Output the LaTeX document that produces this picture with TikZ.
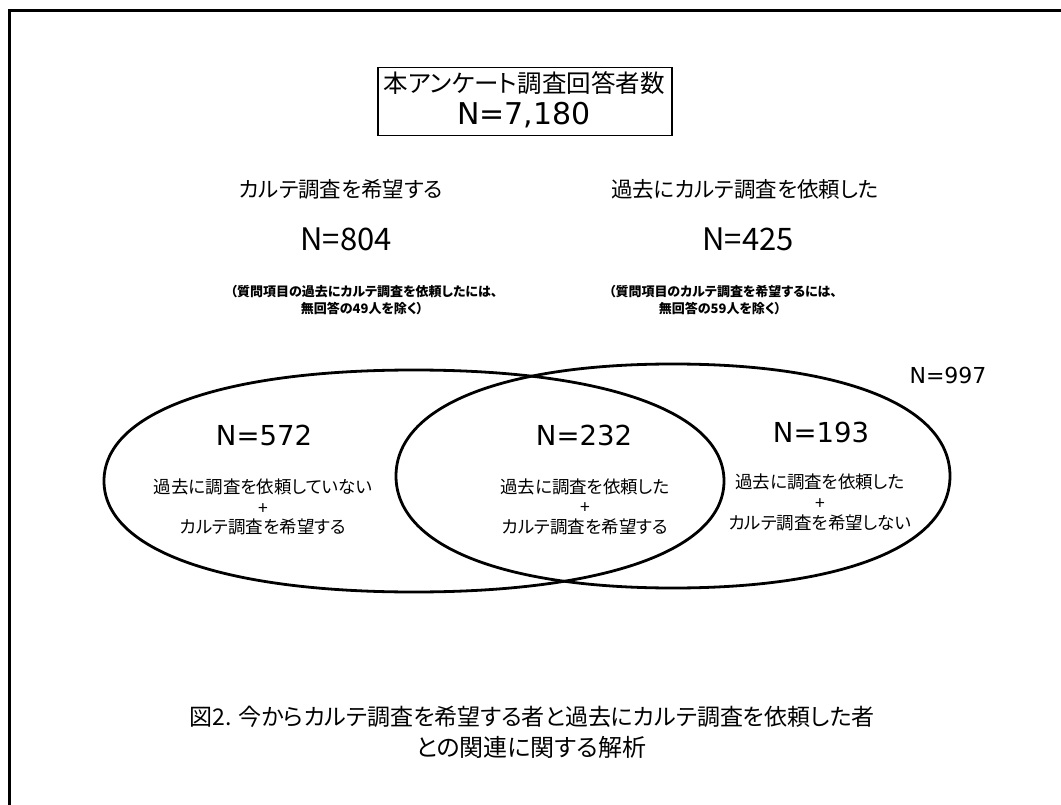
\documentclass[tikz,border=0pt]{standalone}
\usepackage{fontspec}
\setmainfont{Noto Sans CJK JP}[RawFeature=+palt]
\newfontfamily\dv{DejaVu Sans}
\newcommand\fs[1]{\fontsize{#1}{#1}\selectfont}
% rounded oval: centre x, centre y, half width, half height, control factor
\newcommand\vennshape[5]{%
  \draw[venn] ({#1+#3},{#2})
    .. controls ({#1+#3},{#2+#5*#4}) and ({#1+#5*#3},{#2+#4}) .. ({#1},{#2+#4})
    .. controls ({#1-#5*#3},{#2+#4}) and ({#1-#3},{#2+#5*#4}) .. ({#1-#3},{#2})
    .. controls ({#1-#3},{#2-#5*#4}) and ({#1-#5*#3},{#2-#4}) .. ({#1},{#2-#4})
    .. controls ({#1+#5*#3},{#2-#4}) and ({#1+#3},{#2-#5*#4}) .. cycle;}
\begin{document}
\begin{tikzpicture}[x=1pt,y=-1pt,
  lbl/.style={anchor=base,inner sep=0pt},
  venn/.style={draw,line width=2.8pt},
]
\useasboundingbox (0,0) rectangle (1061,805);
\clip (0,0) rectangle (1061,805);
\draw[line width=3pt] (9.5,11) rectangle (1100,850);
% top box
\node[draw,line width=1.2pt,minimum width=294pt,minimum height=68pt,inner sep=0pt] (box) at (525,101.5) {};
\node[lbl] (t1) at (524,92.5) {\fs{24.5}本アンケート調査回答者数};
\node[lbl] (t2) at (524,125) {\dv\fs{30}N=7,180};
% headers
\node[lbl] (h1) at (341,197.5) {\fs{21.5}カルテ調査を希望する};
\node[lbl] (h2) at (745,197.5) {\fs{21.5}過去にカルテ調査を依頼した};
\node[lbl] (n1) at (346,251) {\fs{31}N=804};
\node[lbl] (n2) at (748,251) {\fs{31}N=425};
\node[lbl] (s1a) at (364,297) {\fs{13}\bfseries （質問項目の過去にカルテ調査を依頼したには、};
\node[lbl] (s1b) at (362,314) {\fs{13}\bfseries 無回答の49人を除く）};
\node[lbl] (s2a) at (723,297) {\fs{13}\bfseries （質問項目のカルテ調査を希望するには、};
\node[lbl] (s2b) at (720,314) {\fs{13}\bfseries 無回答の59人を除く）};
% venn shapes
\vennshape{414}{481}{310}{111}{0.62}
\vennshape{673}{476}{277}{112}{0.62}
\node[lbl] (n997) at (948,383) {\dv\fs{22}N=997};
% left region
\node[lbl] (n572) at (264,445) {\dv\fs{27.5}N=572};
\node[lbl] (a1) at (263,493.5) {\fs{17.5}過去に調査を依頼していない};
\node[lbl] (a2) at (263,514) {\fs{17.5}+};
\node[lbl] (a3) at (263,533.5) {\fs{17.5}カルテ調査を希望する};
% middle
\node[lbl] (n232) at (584,445) {\dv\fs{27.5}N=232};
\node[lbl] (b1) at (585,493.5) {\fs{17.5}過去に調査を依頼した};
\node[lbl] (b2) at (585,513.5) {\fs{17.5}+};
\node[lbl] (b3) at (585,533.5) {\fs{17.5}カルテ調査を希望する};
% right
\node[lbl] (n193) at (821,442) {\dv\fs{27.5}N=193};
\node[lbl] (c1) at (820,488.5) {\fs{17.5}過去に調査を依頼した};
\node[lbl] (c2) at (820,509.5) {\fs{17.5}+};
\node[lbl] (c3) at (820,529.5) {\fs{17.5}カルテ調査を希望しない};
% caption
\node[lbl] (cap1) at (532,725) {\fs{23}図2. 今からカルテ調査を希望する者と過去にカルテ調査を依頼した者};
\node[lbl] (cap2) at (531,756) {\fs{24}との関連に関する解析};
\end{tikzpicture}
\end{document}
